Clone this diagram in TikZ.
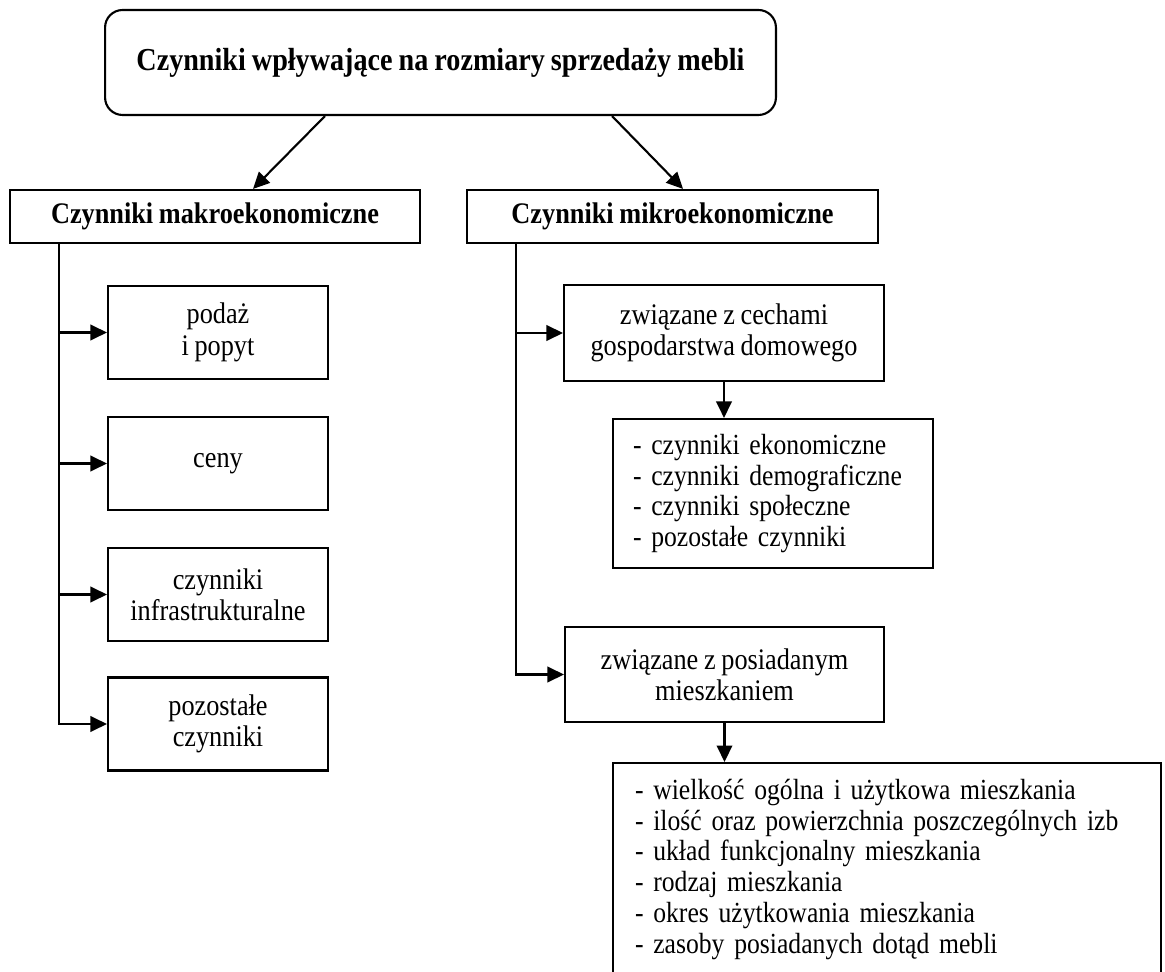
\documentclass[tikz,border=0pt]{standalone}
\usepackage{fontspec}
\setmainfont{Liberation Serif}[FakeStretch=0.88,WordSpace=0.86]
\usepackage{tikz}
\usetikzlibrary{calc}
\usetikzlibrary{arrows.meta}
\tikzstyle{BoxBase}=[draw,line width=1.2pt,inner sep=2pt,align=center,
font=\fontsize{17pt}{17.8pt}\selectfont]
\tikzstyle{BoxMain}=[BoxBase,rounded corners=0.35cm,minimum width=13.42cm,minimum height=2.1cm,
font=\fontsize{18.2pt}{18pt}\selectfont\bfseries]
\tikzstyle{BoxHead}=[BoxBase,minimum width=8.2cm,minimum height=1.06cm,
font=\fontsize{17pt}{17.6pt}\selectfont\bfseries]
\tikzstyle{BoxItem}=[BoxBase,minimum width=4.4cm,minimum height=1.86cm]
\tikzstyle{BoxSub}=[BoxBase,minimum width=6.4cm,minimum height=1.92cm]
\tikzstyle{BoxList}=[BoxBase,align=left,font=\fontsize{16.6pt}{17.5pt}\selectfont]
\tikzstyle{ArrowLine}=[line width=1.2pt,-{Triangle[length=0.33cm,width=0.31cm]}]

\begin{document}
\begin{tikzpicture}[x=0.02cm,y=-0.02cm]
        \useasboundingbox (0,0) rectangle (1165,972);
        \node[BoxMain](top)at(440.5,62.5){Czynniki wpływające na rozmiary sprzedaży mebli};
        \node[BoxHead](makro)at(215,216.5){Czynniki makroekonomiczne};
        \node[BoxHead,minimum width=8.22cm](mikro)at(672.5,216.5){Czynniki mikroekonomiczne};
        % makro
        \node[BoxItem](podaz)at(218,332.5){podaż\\i popyt};
        \node[BoxItem](ceny)at(218,463.5){ceny};
        \node[BoxItem](infra)at(218,594.5){czynniki\\infrastrukturalne};
        \node[BoxItem](pozost)at(218,724){pozostałe\\czynniki};
        % mikro
        \node[BoxSub](cechy)at(724,333){związane z cechami\\gospodarstwa domowego};
        \node[BoxList,text width=5.6cm,inner xsep=0.4cm,minimum height=2.98cm](listaA)at(773,493.5){%
            - czynniki ekonomiczne\\- czynniki demograficzne\\- czynniki społeczne\\- pozostałe czynniki};
        \node[BoxSub,minimum width=6.38cm,minimum height=1.9cm](mieszk)at(724.5,674.5){związane z posiadanym\\mieszkaniem};
        \node[BoxList,anchor=north west,text width=10.08cm,inner xsep=0.44cm,inner ysep=0.32cm,
            text depth=5cm](listaB)at(612,762){%
            - wielkość ogólna i użytkowa mieszkania\\- ilość oraz powierzchnia poszczególnych izb\\
            - układ funkcjonalny mieszkania\\- rodzaj mieszkania\\- okres użytkowania mieszkania\\
            - zasoby posiadanych dotąd mebli};
        \coordinate(makroRoot)at($(makro.south west)+(50,0)$);
        \coordinate(mikroRoot)at($(mikro.south west)+(50,0)$);
        \draw[ArrowLine]($(top.south)+(-115.5,0)$)--($(makro.north)+(38,0)$);
        \draw[ArrowLine]($(top.south)+(171.5,0)$)--($(mikro.north)+(10.5,0)$);
        \draw[ArrowLine](makroRoot)|-(podaz);
        \draw[ArrowLine](makroRoot)|-(ceny);
        \draw[ArrowLine](makroRoot)|-(infra);
        \draw[ArrowLine](makroRoot)|-(pozost);
        \draw[ArrowLine](mikroRoot)|-(cechy);
        \draw[ArrowLine](mikroRoot)|-(mieszk);
        \draw[ArrowLine](cechy.south)--(cechy.south|-listaA.north);
        \draw[ArrowLine](mieszk.south)--(mieszk.south|-listaB.north);
    \end{tikzpicture}
\end{document}
